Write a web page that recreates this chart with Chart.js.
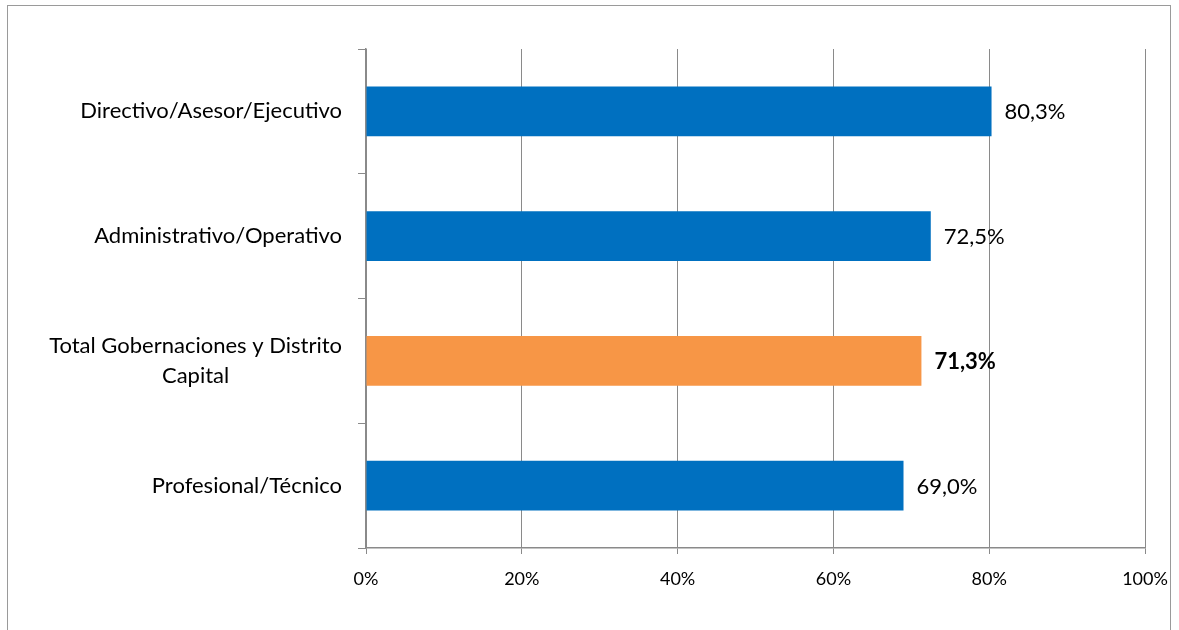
<!DOCTYPE html>
<html>
<head>
<meta charset="utf-8">
<script src="https://cdn.jsdelivr.net/npm/chart.js@4.4.1/dist/chart.umd.min.js"></script>
<style>
  html, body { margin: 0; padding: 0; background: #fff; }
  #wrap { width: 1179px; height: 630px; }
</style>
</head>
<body>
<div id="wrap"><canvas id="chart" width="1179" height="630"></canvas></div>
<script>
// data
const categories = [
  ['Directivo/Asesor/Ejecutivo'],
  ['Administrativo/Operativo'],
  ['Total Gobernaciones y Distrito', 'Capital'],
  ['Profesional/Técnico']
];
const values = [80.3, 72.5, 71.3, 69.0];
const barColors = ['#0070C0', '#0070C0', '#F79646', '#0070C0'];
const boldIndex = 2;
const xMin = 0;
const xMax = 100;
const xStep = 20;

const FONT = 'Lato, "Liberation Sans", sans-serif';
const GRID = '#8a8a8a';

// outer frame of the chart object
const framePlugin = {
  id: 'frame',
  beforeDraw(chart) {
    const ctx = chart.ctx;
    ctx.save();
    ctx.fillStyle = '#fff';
    ctx.fillRect(0, 0, chart.width, chart.height);
    ctx.strokeStyle = '#9a9a9a';
    ctx.lineWidth = 1;
    ctx.strokeRect(7.5, 5.5, 1163, 700);
    ctx.restore();
  }
};

// category labels: block right aligned, lines centred inside the block
const catLabelPlugin = {
  id: 'catLabels',
  afterDraw(chart) {
    const ctx = chart.ctx;
    const yScale = chart.scales.y;
    const right = yScale.right - 24;
    const lineH = 30;
    ctx.save();
    ctx.font = '22px ' + FONT;
    ctx.fillStyle = '#000';
    ctx.textAlign = 'center';
    ctx.textBaseline = 'middle';
    categories.forEach((lines, i) => {
      const yc = yScale.getPixelForValue(i);
      const w = Math.max(...lines.map(l => ctx.measureText(l).width));
      const xc = right - w / 2;
      lines.forEach((l, j) => {
        ctx.fillText(l, xc, yc + (j - (lines.length - 1) / 2) * lineH);
      });
    });
    ctx.restore();
  }
};

// value labels at the end of each bar
const valueLabelPlugin = {
  id: 'valueLabels',
  afterDatasetsDraw(chart) {
    const ctx = chart.ctx;
    const meta = chart.getDatasetMeta(0);
    ctx.save();
    ctx.fillStyle = '#000';
    ctx.textAlign = 'left';
    ctx.textBaseline = 'middle';
    meta.data.forEach((bar, i) => {
      ctx.font = (i === boldIndex ? 'bold ' : '') + '22px ' + FONT;
      const txt = values[i].toFixed(1).replace('.', ',') + '%';
      ctx.fillText(txt, bar.x + 13, bar.y + 1);
    });
    ctx.restore();
  }
};

const chart = new Chart(document.getElementById('chart'), {
  type: 'bar',
  data: {
    labels: categories.map(c => c.join(' ')),
    datasets: [{
      data: values,
      backgroundColor: barColors,
      borderWidth: 0,
      categoryPercentage: 0.4,
      barPercentage: 1
    }]
  },
  options: {
    indexAxis: 'y',
    responsive: false,
    animation: false,
    devicePixelRatio: 1,
    layout: { padding: { left: 0, right: 34, top: 49, bottom: 0 } },
    plugins: {
      legend: { display: false },
      tooltip: { enabled: false }
    },
    scales: {
      x: {
        min: xMin,
        max: xMax,
        ticks: {
          stepSize: xStep,
          color: '#000',
          font: { family: FONT, size: 18 },
          padding: 14,
          maxRotation: 0,
          callback: v => v + '%'
        },
        grid: { color: GRID, lineWidth: 1, tickLength: 6, drawTicks: true },
        border: { color: GRID, width: 1.5 },
        afterFit(scale) {
          scale.height = 82;
          scale.paddingLeft = 0;
          scale.paddingRight = 0;
        }
      },
      y: {
        ticks: { display: false },
        grid: { drawOnChartArea: false, drawTicks: true, tickLength: 8, color: GRID, offset: true },
        border: { color: GRID, width: 1.5 },
        afterFit(scale) { scale.width = 366; }
      }
    }
  },
  plugins: [framePlugin, catLabelPlugin, valueLabelPlugin]
});
</script>
</body>
</html>
